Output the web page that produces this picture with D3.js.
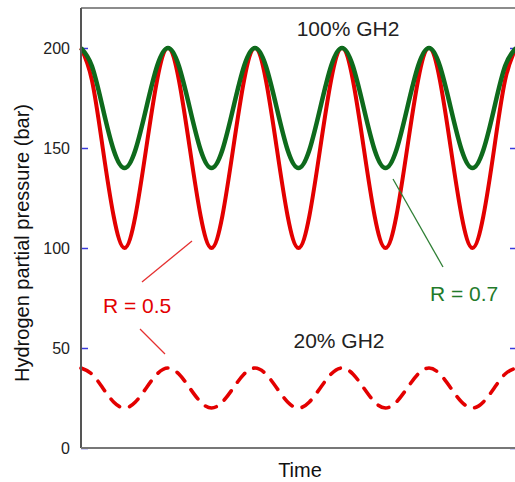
<!DOCTYPE html>
<html>
<head>
<meta charset="utf-8">
<script src="https://cdn.jsdelivr.net/npm/d3@7"></script>
<style>
  html, body { margin: 0; padding: 0; background: #fff; }
  svg { display: block; }
  text { font-family: "Liberation Sans", Arial, Helvetica, sans-serif; }
</style>
</head>
<body>
<svg id="chart" width="515" height="482"></svg>
<script>
// Time in cycles (eight samples per cycle)
const time = [0, 0.125, 0.25, 0.375, 0.5, 0.625, 0.75, 0.875,
              1, 1.125, 1.25, 1.375, 1.5, 1.625, 1.75, 1.875,
              2, 2.125, 2.25, 2.375, 2.5, 2.625, 2.75, 2.875,
              3, 3.125, 3.25, 3.375, 3.5, 3.625, 3.75, 3.875,
              4, 4.125, 4.25, 4.375, 4.5, 4.625, 4.75, 4.875, 5];

// 100% GH2, R = 0.5 (bar)
const pureR05 = [200, 184, 150, 116, 100, 116, 150, 184,
                 200, 184, 150, 116, 100, 116, 150, 184,
                 200, 184, 150, 116, 100, 116, 150, 184,
                 200, 184, 150, 116, 100, 116, 150, 184,
                 200, 184, 150, 116, 100, 116, 150, 184, 200];

// 100% GH2, R = 0.7 (bar)
const pureR07 = [200, 191, 170, 149, 140, 149, 170, 191,
                 200, 191, 170, 149, 140, 149, 170, 191,
                 200, 191, 170, 149, 140, 149, 170, 191,
                 200, 191, 170, 149, 140, 149, 170, 191,
                 200, 191, 170, 149, 140, 149, 170, 191, 200];

// 20% GH2, R = 0.5 (bar)
const blendR05 = [40, 37, 30, 23, 20, 23, 30, 37,
                  40, 37, 30, 23, 20, 23, 30, 37,
                  40, 37, 30, 23, 20, 23, 30, 37,
                  40, 37, 30, 23, 20, 23, 30, 37,
                  40, 37, 30, 23, 20, 23, 30, 37, 40];

const yTicks = [0, 50, 100, 150, 200];

const svg = d3.select("#chart");
const plotL = 81, plotR = 517, plotT = 8, plotB = 448;

const x = d3.scaleLinear().domain([0, 5]).range([plotL, plotR - 1]);
const y = d3.scaleLinear().domain([0, 220]).range([plotB, plotT]);

const RED = "#e30000", GREEN = "#0e6a1c";

// Frame
svg.append("line").attr("x1", plotL).attr("x2", plotR).attr("y1", plotT).attr("y2", plotT)
  .attr("stroke", "#666").attr("stroke-width", 1.5);

// Ticks (inward, on both sides)
const tickL = svg.append("g").attr("transform", `translate(${plotL},0)`)
  .call(d3.axisRight(y).tickValues(yTicks).tickSize(7).tickFormat(""));
const tickR = svg.append("g").attr("transform", `translate(${plotR},0)`)
  .call(d3.axisLeft(y).tickValues(yTicks).tickSize(7).tickFormat(""));
[tickL, tickR].forEach(g => {
  g.select(".domain").remove();
  g.selectAll(".tick line").attr("stroke", "#3a3adf").attr("stroke-width", 1.5);
});

// Tick labels
svg.append("g").selectAll("text").data(yTicks).join("text")
  .attr("x", 70).attr("y", d => y(d)).attr("dy", "0.36em")
  .attr("text-anchor", "end").attr("font-size", 16).attr("fill", "#222")
  .text(d => d);

// Series
const line = vals => d3.line()
  .x((d, i) => x(time[i]))
  .y(d => y(d))
  .curve(d3.curveNatural)(vals);

svg.append("path").attr("d", line(blendR05)).attr("fill", "none")
  .attr("stroke", RED).attr("stroke-width", 3.6)
  .attr("stroke-dasharray", "11.5,10.5").attr("stroke-linecap", "round");

svg.append("path").attr("d", line(pureR05)).attr("fill", "none")
  .attr("stroke", RED).attr("stroke-width", 4);

svg.append("path").attr("d", line(pureR07)).attr("fill", "none")
  .attr("stroke", GREEN).attr("stroke-width", 4.5);

// Axis lines
svg.append("line").attr("x1", plotL).attr("x2", plotL).attr("y1", plotT).attr("y2", plotB)
  .attr("stroke", "#555").attr("stroke-width", 2);
svg.append("line").attr("x1", plotL).attr("x2", plotR).attr("y1", plotB).attr("y2", plotB)
  .attr("stroke", "#777").attr("stroke-width", 2);

// Axis titles
svg.append("text").attr("x", 300).attr("y", 477).attr("text-anchor", "middle")
  .attr("font-size", 20).attr("fill", "#111").text("Time");
svg.append("text").attr("transform", "translate(29,243) rotate(-90)")
  .attr("text-anchor", "middle").attr("font-size", 20).attr("fill", "#111")
  .text("Hydrogen partial pressure (bar)");

// Annotations
svg.append("text").attr("x", 348).attr("y", 36).attr("text-anchor", "middle")
  .attr("font-size", 21).attr("fill", "#222").text("100% GH2");
svg.append("text").attr("x", 339).attr("y", 348).attr("text-anchor", "middle")
  .attr("font-size", 21).attr("fill", "#222").text("20% GH2");

svg.append("text").attr("x", 103).attr("y", 313)
  .attr("font-size", 21).attr("fill", RED).text("R = 0.5");
svg.append("line").attr("x1", 142).attr("y1", 282).attr("x2", 192).attr("y2", 241)
  .attr("stroke", "#e53030").attr("stroke-width", 1.3);
svg.append("line").attr("x1", 140).attr("y1", 329).attr("x2", 165).attr("y2", 354)
  .attr("stroke", "#e53030").attr("stroke-width", 1.3);

svg.append("text").attr("x", 430).attr("y", 301)
  .attr("font-size", 21).attr("fill", "#237a2a").text("R = 0.7");
svg.append("line").attr("x1", 393).attr("y1", 179).attr("x2", 443).attr("y2", 267)
  .attr("stroke", "#2f7f35").attr("stroke-width", 1.3);
</script>
</body>
</html>
